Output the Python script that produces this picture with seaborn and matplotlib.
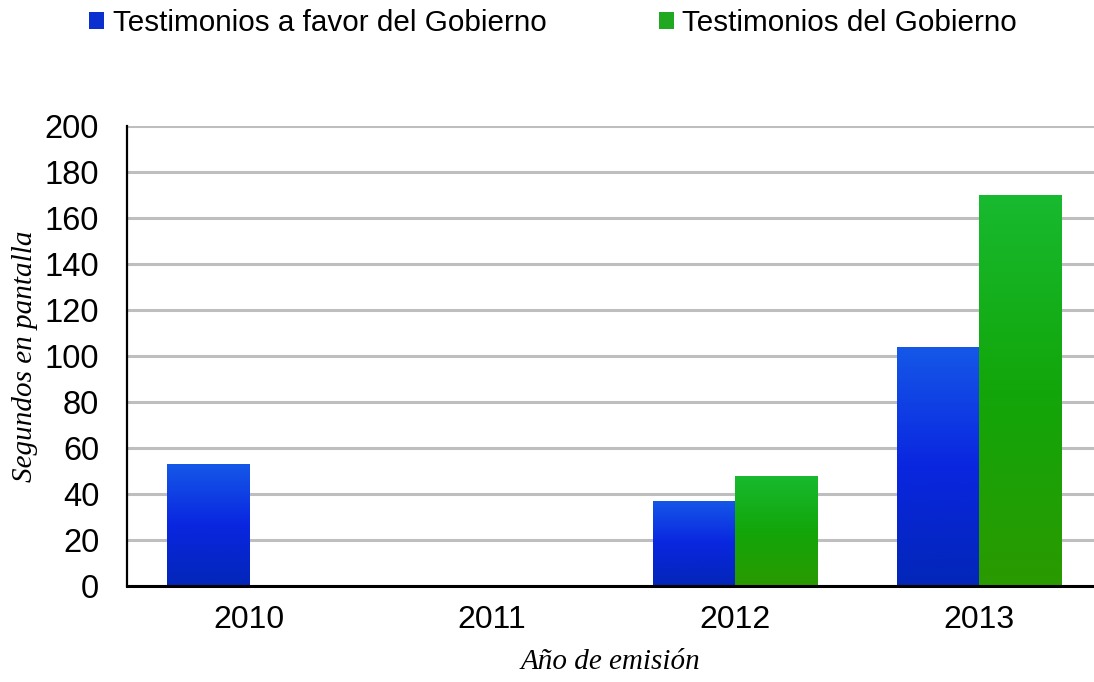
import numpy as np
import pandas as pd
import matplotlib
matplotlib.use("Agg")
import matplotlib.pyplot as plt
import seaborn as sns
from matplotlib.patches import Patch
from matplotlib.colors import to_rgb

years = ["2010", "2011", "2012", "2013"]
series_names = ["Testimonios a favor del Gobierno", "Testimonios del Gobierno"]
favor = [53, 0, 37, 104]
gobierno = [0, 0, 48, 170]
yticks = [0, 20, 40, 60, 80, 100, 120, 140, 160, 180, 200]

df = pd.DataFrame({
    "year": years * 2,
    "serie": [series_names[0]] * 4 + [series_names[1]] * 4,
    "value": favor + gobierno,
})

sns.set_theme(style="white")
plt.rcParams["font.family"] = ["Liberation Sans", "DejaVu Sans"]
plt.rcParams["text.color"] = "black"
plt.rcParams["axes.labelcolor"] = "black"

fig = plt.figure(figsize=(10.94, 6.82), dpi=100)
ax = fig.add_axes([127 / 1094, 1 - 586 / 682, 1 - 127 / 1094, (586 - 126) / 682])

sns.barplot(data=df, x="year", y="value", hue="serie", order=years,
            hue_order=series_names, width=0.675, gap=0, dodge=True,
            palette=["#0A30D0", "#20A820"], ax=ax, legend=False,
            errorbar=None, saturation=1, zorder=3)

grads = [
    ["#1558E8", "#0A26E0", "#0326B8"],
    ["#18BA30", "#12A60A", "#2A9A00"],
]

def make_grad(cols, n=200):
    c = np.array([to_rgb(x) for x in cols])
    t = np.linspace(0, 1, n)
    stops = np.array([0.0, 0.5, 1.0])
    arr = np.stack([np.interp(t, stops, c[:, k]) for k in range(3)], axis=-1)
    return arr[:, None, :]

for ci, cont in enumerate(ax.containers):
    g = make_grad(grads[ci])
    for p in cont.patches:
        h = p.get_height()
        if h <= 0:
            continue
        x0 = p.get_x()
        w = p.get_width()
        p.set_facecolor("none")
        p.set_edgecolor("none")
        im = ax.imshow(g, extent=[x0, x0 + w, 0, h], aspect="auto",
                       origin="upper", zorder=3, interpolation="bilinear")
        im.set_clip_path(p)

ax.set_xlim(-0.5, 3.473)
ax.set_ylim(0, 200)
ax.set_yticks(yticks)
ax.set_yticklabels([str(v) for v in yticks])
ax.yaxis.grid(True, color="#BEBEBE", linewidth=2.2, zorder=0)
ax.set_axisbelow(True)
for s in ["top", "right"]:
    ax.spines[s].set_visible(False)
ax.spines["left"].set_color("black")
ax.spines["left"].set_linewidth(1.6)
ax.spines["bottom"].set_color("black")
ax.spines["bottom"].set_linewidth(2.2)
ax.spines["left"].set_zorder(5)
ax.spines["bottom"].set_zorder(5)
ax.tick_params(axis="y", length=0, pad=20, labelsize=23.5, labelcolor="black")
ax.tick_params(axis="x", length=0, pad=14, labelsize=23, labelcolor="black")

ax.set_xlabel("Año de emisión", fontsize=21, fontstyle="italic",
              family=["Liberation Serif", "DejaVu Serif"], labelpad=10)
ax.set_ylabel("Segundos en pantalla", fontsize=21, fontstyle="italic",
              family=["Liberation Serif", "DejaVu Serif"], labelpad=5)

handles = [Patch(facecolor="#0A30D0", edgecolor="none"),
           Patch(facecolor="#20A820", edgecolor="none")]
leg = fig.legend(handles, series_names, loc="center left",
                 bbox_to_anchor=(89 / 1094, 1 - 23 / 682), ncol=2, frameon=False,
                 fontsize=21.3, handlelength=0.5, handleheight=0.5,
                 handletextpad=0.3, columnspacing=3.8, borderpad=0, borderaxespad=0,
                 labelcolor="black")

fig.savefig("out.png", dpi=100)
